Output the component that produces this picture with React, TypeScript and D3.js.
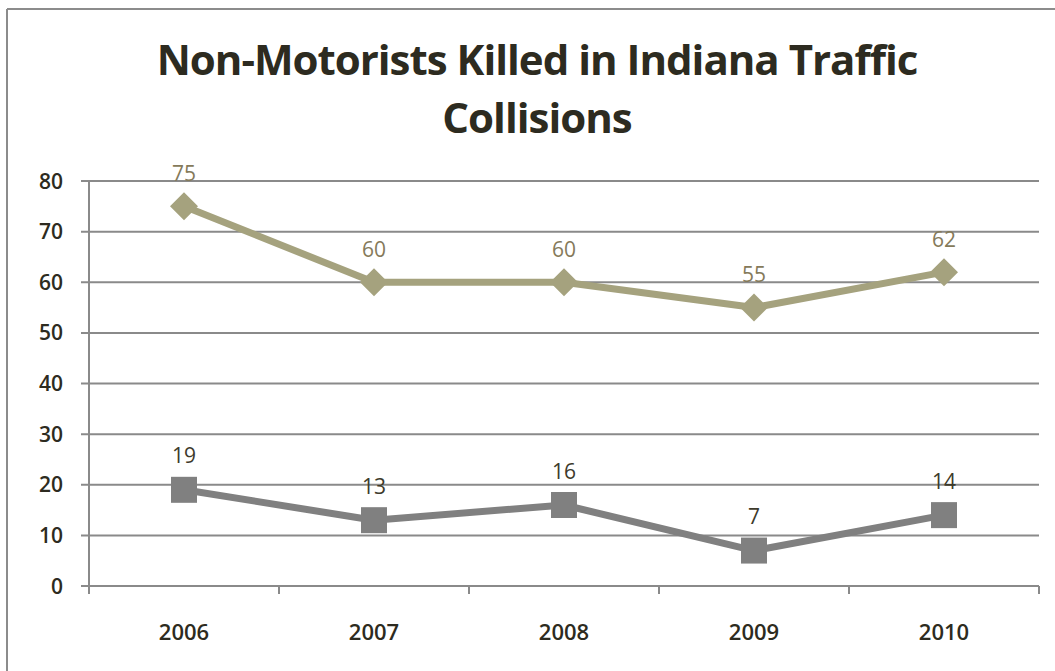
import React from "react";
import * as d3 from "d3";

const years = ["2006", "2007", "2008", "2009", "2010"];
const seriesUpper = [75, 60, 60, 55, 62];
const seriesLower = [19, 13, 16, 7, 14];
const yTicks = [0, 10, 20, 30, 40, 50, 60, 70, 80];

const W = 1055;
const H = 671;
const FONT = "'Open Sans', 'Liberation Sans', sans-serif";

export default function App() {
  const left = 89;
  const right = 1039;
  const top = 181;
  const bottom = 586;
  const x = d3.scaleBand<string>().domain(years).range([left, right]);
  const y = d3.scaleLinear().domain([0, 80]).range([bottom, top]);
  const cx = (d: string) => (x(d) as number) + x.bandwidth() / 2;
  const line = d3
    .line<number>()
    .x((_, i) => cx(years[i]))
    .y((v) => y(v));
  const ticksX = [...years.map((d) => x(d) as number), right];
  const diamond = 14;
  const sq = 13;
  return (
    <div style={{ position: "absolute", left: 0, top: 0 }}>
      <svg width={W} height={H} style={{ display: "block" }}>
        <rect x={0} y={0} width={W} height={H} fill="#fff" />
        <line x1={7} x2={W} y1={9} y2={9} stroke="#8c8c8c" strokeWidth={2} />
        <line x1={7} x2={7} y1={9} y2={H} stroke="#8c8c8c" strokeWidth={2} />
        <text x={537} y={75} textAnchor="middle" fontFamily={FONT} fontWeight="bold" fontSize={42} fill="#2d2b20" letterSpacing={-1}>
          Non-Motorists Killed in Indiana Traffic
        </text>
        <text x={537} y={133} textAnchor="middle" fontFamily={FONT} fontWeight="bold" fontSize={42} fill="#2d2b20" letterSpacing={-1}>
          Collisions
        </text>
        {yTicks.map((t) => (
          <g key={t}>
            <line x1={81} x2={right} y1={y(t)} y2={y(t)} stroke="#8a8a8a" strokeWidth={2} />
            <text x={63} y={y(t)} dy="0.36em" textAnchor="end" fontFamily={FONT} fontWeight={600} fontSize={21} fill="#2d2b20">
              {t}
            </text>
          </g>
        ))}
        <line x1={left} x2={left} y1={top} y2={bottom + 6} stroke="#8a8a8a" strokeWidth={2} />
        {ticksX.map((t, i) => (
          <line key={i} x1={t} x2={t} y1={bottom} y2={bottom + 8} stroke="#8a8a8a" strokeWidth={2} />
        ))}
        {years.map((d) => (
          <text key={d} x={cx(d)} y={640} textAnchor="middle" fontFamily={FONT} fontWeight={600} fontSize={22} fill="#2d2b20">
            {d}
          </text>
        ))}
        <path d={line(seriesUpper) || ""} fill="none" stroke="#a5a27e" strokeWidth={7} strokeLinejoin="round" />
        <path d={line(seriesLower) || ""} fill="none" stroke="#808080" strokeWidth={7} strokeLinejoin="round" />
        {seriesUpper.map((v, i) => (
          <g key={"u" + i}>
            <path
              d={`M${cx(years[i])},${y(v) - diamond}L${cx(years[i]) + diamond},${y(v)}L${cx(years[i])},${y(v) + diamond}L${cx(years[i]) - diamond},${y(v)}Z`}
              fill="#a5a27e"
            />
            <text x={cx(years[i])} y={y(v) - 33} dy="0.36em" textAnchor="middle" fontFamily={FONT} fontSize={21} fill="#857a5a">
              {v}
            </text>
          </g>
        ))}
        {seriesLower.map((v, i) => (
          <g key={"l" + i}>
            <rect x={cx(years[i]) - sq} y={y(v) - sq} width={sq * 2} height={sq * 2} fill="#808080" />
            <text x={cx(years[i])} y={y(v) - 34} dy="0.36em" textAnchor="middle" fontFamily={FONT} fontSize={21} fill="#3d3a2b">
              {v}
            </text>
          </g>
        ))}
      </svg>
    </div>
  );
}
